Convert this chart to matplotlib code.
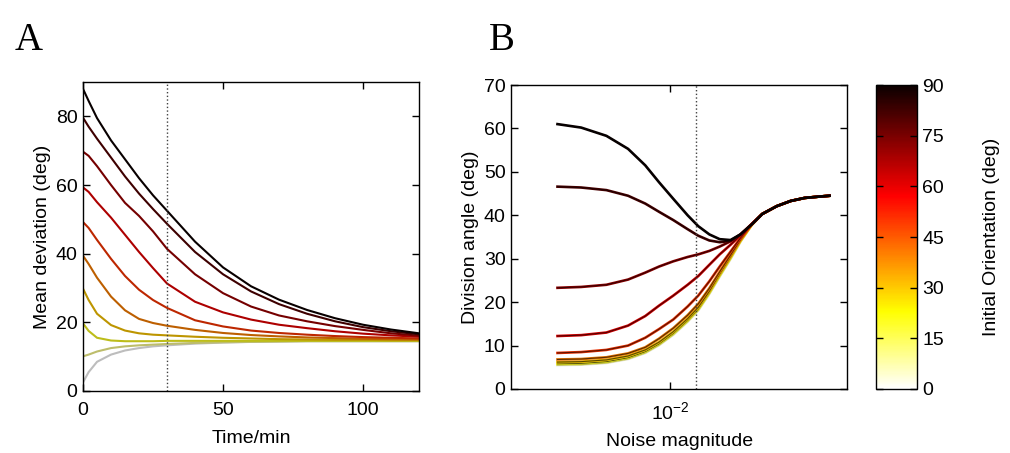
import numpy as np
import matplotlib
matplotlib.use("Agg")
import matplotlib.pyplot as plt
from matplotlib import cm
from matplotlib.colors import Normalize
from matplotlib.ticker import FixedLocator, FixedFormatter, NullLocator

plt.rcParams['font.family'] = ['Liberation Sans', 'DejaVu Sans']
plt.rcParams['mathtext.default'] = 'regular'

# ===========================
# Data
# ===========================
orientations = [0, 10, 20, 30, 40, 50, 60, 70, 80, 90]

# Panel A: mean deviation vs time
time_min = [0, 2, 5, 10, 15, 20, 25, 30, 40, 50, 60, 70, 80, 90, 100, 110, 120]
dev_0 = [2.5, 5.5, 8.5, 10.6, 11.8, 12.5, 13.0, 13.3, 13.8, 14.1, 14.3, 14.4, 14.5, 14.5, 14.5, 14.5, 14.5]
dev_10 = [10.1, 10.6, 11.5, 12.5, 13.0, 13.3, 13.5, 13.7, 14.0, 14.2, 14.3, 14.4, 14.5, 14.5, 14.5, 14.5, 14.5]
dev_20 = [19.7, 17.5, 15.5, 14.7, 14.5, 14.5, 14.5, 14.6, 14.6, 14.6, 14.6, 14.6, 14.6, 14.6, 14.6, 14.6, 14.6]
dev_30 = [29.8, 26.5, 22.5, 19.2, 17.6, 16.8, 16.4, 16.2, 15.8, 15.5, 15.3, 15.1, 15.0, 14.9, 14.9, 14.8, 14.8]
dev_40 = [39.4, 37.0, 33.0, 27.5, 23.5, 21.0, 19.8, 19.0, 17.8, 16.9, 16.3, 15.9, 15.6, 15.4, 15.2, 15.1, 15.0]
dev_50 = [49.2, 47.5, 44.0, 38.5, 33.5, 29.5, 26.5, 24.2, 20.6, 18.8, 17.6, 16.9, 16.4, 16.0, 15.7, 15.5, 15.3]
dev_60 = [59.3, 58.0, 55.0, 50.5, 45.5, 40.5, 35.8, 31.3, 26.0, 22.9, 20.8, 19.3, 18.3, 17.4, 16.7, 16.2, 15.8]
dev_70 = [69.7, 68.5, 65.5, 60.0, 54.8, 51.0, 46.5, 41.4, 34.0, 28.5, 24.6, 22.0, 20.3, 18.9, 17.8, 16.8, 16.1]
dev_80 = [79.6, 77.0, 73.5, 68.0, 62.5, 57.5, 53.0, 48.7, 40.5, 34.0, 29.0, 25.3, 22.5, 20.3, 18.6, 17.4, 16.5]
dev_90 = [88.0, 84.5, 79.5, 73.0, 67.5, 62.0, 57.0, 52.5, 43.5, 36.0, 30.5, 26.6, 23.6, 21.2, 19.3, 17.9, 16.8]
deviations = [dev_0, dev_10, dev_20, dev_30, dev_40, dev_50, dev_60, dev_70, dev_80, dev_90]

# Panel B: division angle vs noise magnitude
noise = [0.0048, 0.0056, 0.0066, 0.0076, 0.0085, 0.0093, 0.0102, 0.0112, 0.012, 0.0129,
         0.0138, 0.0148, 0.0158, 0.017, 0.0182, 0.02, 0.0219, 0.024, 0.0263, 0.0282]
ang_0 = [5.5, 5.6, 6.0, 6.9, 8.3, 10.1, 12.5, 15.5, 18.1, 21.9, 25.9, 29.9, 33.9, 37.8, 40.3, 42.1, 43.3, 44.0, 44.3, 44.5]
ang_10 = [5.6, 5.7, 6.1, 7.0, 8.4, 10.2, 12.6, 15.6, 18.2, 22.0, 26.0, 30.0, 34.0, 37.8, 40.3, 42.1, 43.3, 44.0, 44.3, 44.5]
ang_20 = [5.8, 5.9, 6.3, 7.2, 8.6, 10.4, 12.8, 15.8, 18.4, 22.2, 26.2, 30.2, 34.1, 37.8, 40.3, 42.1, 43.3, 44.0, 44.3, 44.5]
ang_30 = [6.2, 6.3, 6.7, 7.6, 9.0, 10.8, 13.2, 16.2, 18.8, 22.5, 26.5, 30.4, 34.2, 37.8, 40.3, 42.1, 43.3, 44.0, 44.3, 44.5]
ang_40 = [6.8, 6.9, 7.3, 8.2, 9.6, 11.6, 14.0, 17.0, 19.6, 23.2, 27.0, 30.8, 34.4, 37.9, 40.3, 42.1, 43.3, 44.0, 44.3, 44.5]
ang_50 = [8.3, 8.5, 9.0, 10.0, 11.8, 13.8, 16.0, 19.0, 21.5, 24.8, 28.2, 31.6, 34.8, 37.9, 40.3, 42.1, 43.3, 44.0, 44.3, 44.5]
ang_60 = [12.2, 12.4, 13.0, 14.6, 16.8, 19.2, 21.5, 24.0, 26.0, 28.6, 31.0, 33.2, 35.4, 38.0, 40.3, 42.1, 43.3, 44.0, 44.3, 44.5]
ang_70 = [23.3, 23.5, 24.0, 25.2, 26.8, 28.2, 29.4, 30.4, 31.0, 31.8, 32.8, 34.0, 35.6, 38.0, 40.3, 42.1, 43.3, 44.0, 44.3, 44.5]
ang_80 = [46.6, 46.4, 45.8, 44.5, 42.7, 40.8, 38.9, 36.8, 35.3, 34.2, 33.8, 34.1, 35.6, 37.9, 40.3, 42.1, 43.3, 44.0, 44.3, 44.5]
ang_90 = [61.0, 60.2, 58.3, 55.3, 51.5, 47.6, 43.8, 40.0, 37.5, 35.6, 34.5, 34.3, 35.6, 37.9, 40.3, 42.1, 43.3, 44.0, 44.3, 44.5]
angles = [ang_0, ang_10, ang_20, ang_30, ang_40, ang_50, ang_60, ang_70, ang_80, ang_90]

T_MARK = 30
NOISE_MARK = 0.0118
cmap = plt.get_cmap("hot_r")
norm = Normalize(0, 90)
FS = 14


def style_axes(ax, xpad):
    for s in ax.spines.values():
        s.set_linewidth(1.0)
    ax.tick_params(direction="in", length=5, width=1.0, top=True, right=True,
                   labelsize=FS, pad=4)
    ax.tick_params(axis="x", pad=xpad)


fig = plt.figure(figsize=(10.1, 4.53), dpi=100)

# ===========================
# Panel A
# ===========================
axA = fig.add_axes([0.0822, 0.1369, 0.3327, 0.682])
for o, d in zip(orientations, deviations):
    c = np.array(cmap(norm(o))[:3]) * 0.74
    axA.plot(time_min, d, color=c, lw=1.5)
axA.axvline(T_MARK, color="0.25", ls=":", lw=1.0)
axA.set_xlim(0, 120)
axA.set_ylim(0, 90)
axA.set_xticks([0, 50, 100])
axA.set_yticks([0, 20, 40, 60, 80])
axA.set_xlabel("Time/min", fontsize=FS, labelpad=8)
axA.set_ylabel("Mean deviation (deg)", fontsize=FS, labelpad=3)
style_axes(axA, 8)

# ===========================
# Panel B
# ===========================
axB = fig.add_axes([0.506, 0.1413, 0.3327, 0.671])
for o, a in zip(orientations, angles):
    c = np.array(cmap(norm(o))[:3])
    axB.plot(noise, a, color=c * 0.9, lw=1.9)
    axB.plot(noise, a, color=c * 0.35, lw=0.8)
axB.axvline(NOISE_MARK, color="0.25", ls=":", lw=1.0)
axB.set_xscale("log")
axB.set_xlim(10 ** -2.45, 10 ** -1.5)
axB.set_ylim(0, 70)
axB.xaxis.set_major_locator(FixedLocator([0.01]))
axB.xaxis.set_major_formatter(FixedFormatter([r"$10^{-2}$"]))
axB.xaxis.set_minor_locator(NullLocator())
axB.set_yticks(range(0, 71, 10))
axB.set_xlabel("Noise magnitude", fontsize=FS, labelpad=7)
axB.set_ylabel("Division angle (deg)", fontsize=FS, labelpad=3)
style_axes(axB, 9)

# ===========================
# Colorbar
# ===========================
cax = fig.add_axes([0.867, 0.1413, 0.0406, 0.671])
sm = cm.ScalarMappable(norm=norm, cmap=cmap)
cb = fig.colorbar(sm, cax=cax, ticks=range(0, 91, 15))
cb.outline.set_linewidth(1.0)
cax.tick_params(direction="in", length=5, width=1.0, left=True, right=True,
                labelsize=FS, pad=4)
cb.set_label("Initial Orientation (deg)", fontsize=FS, labelpad=28)

fig.text(0.028, 0.91, "A", fontsize=28, family="Liberation Serif", va="center", ha="center")
fig.text(0.497, 0.91, "B", fontsize=28, family="Liberation Serif", va="center", ha="center")

fig.savefig("out.png", dpi=100)
